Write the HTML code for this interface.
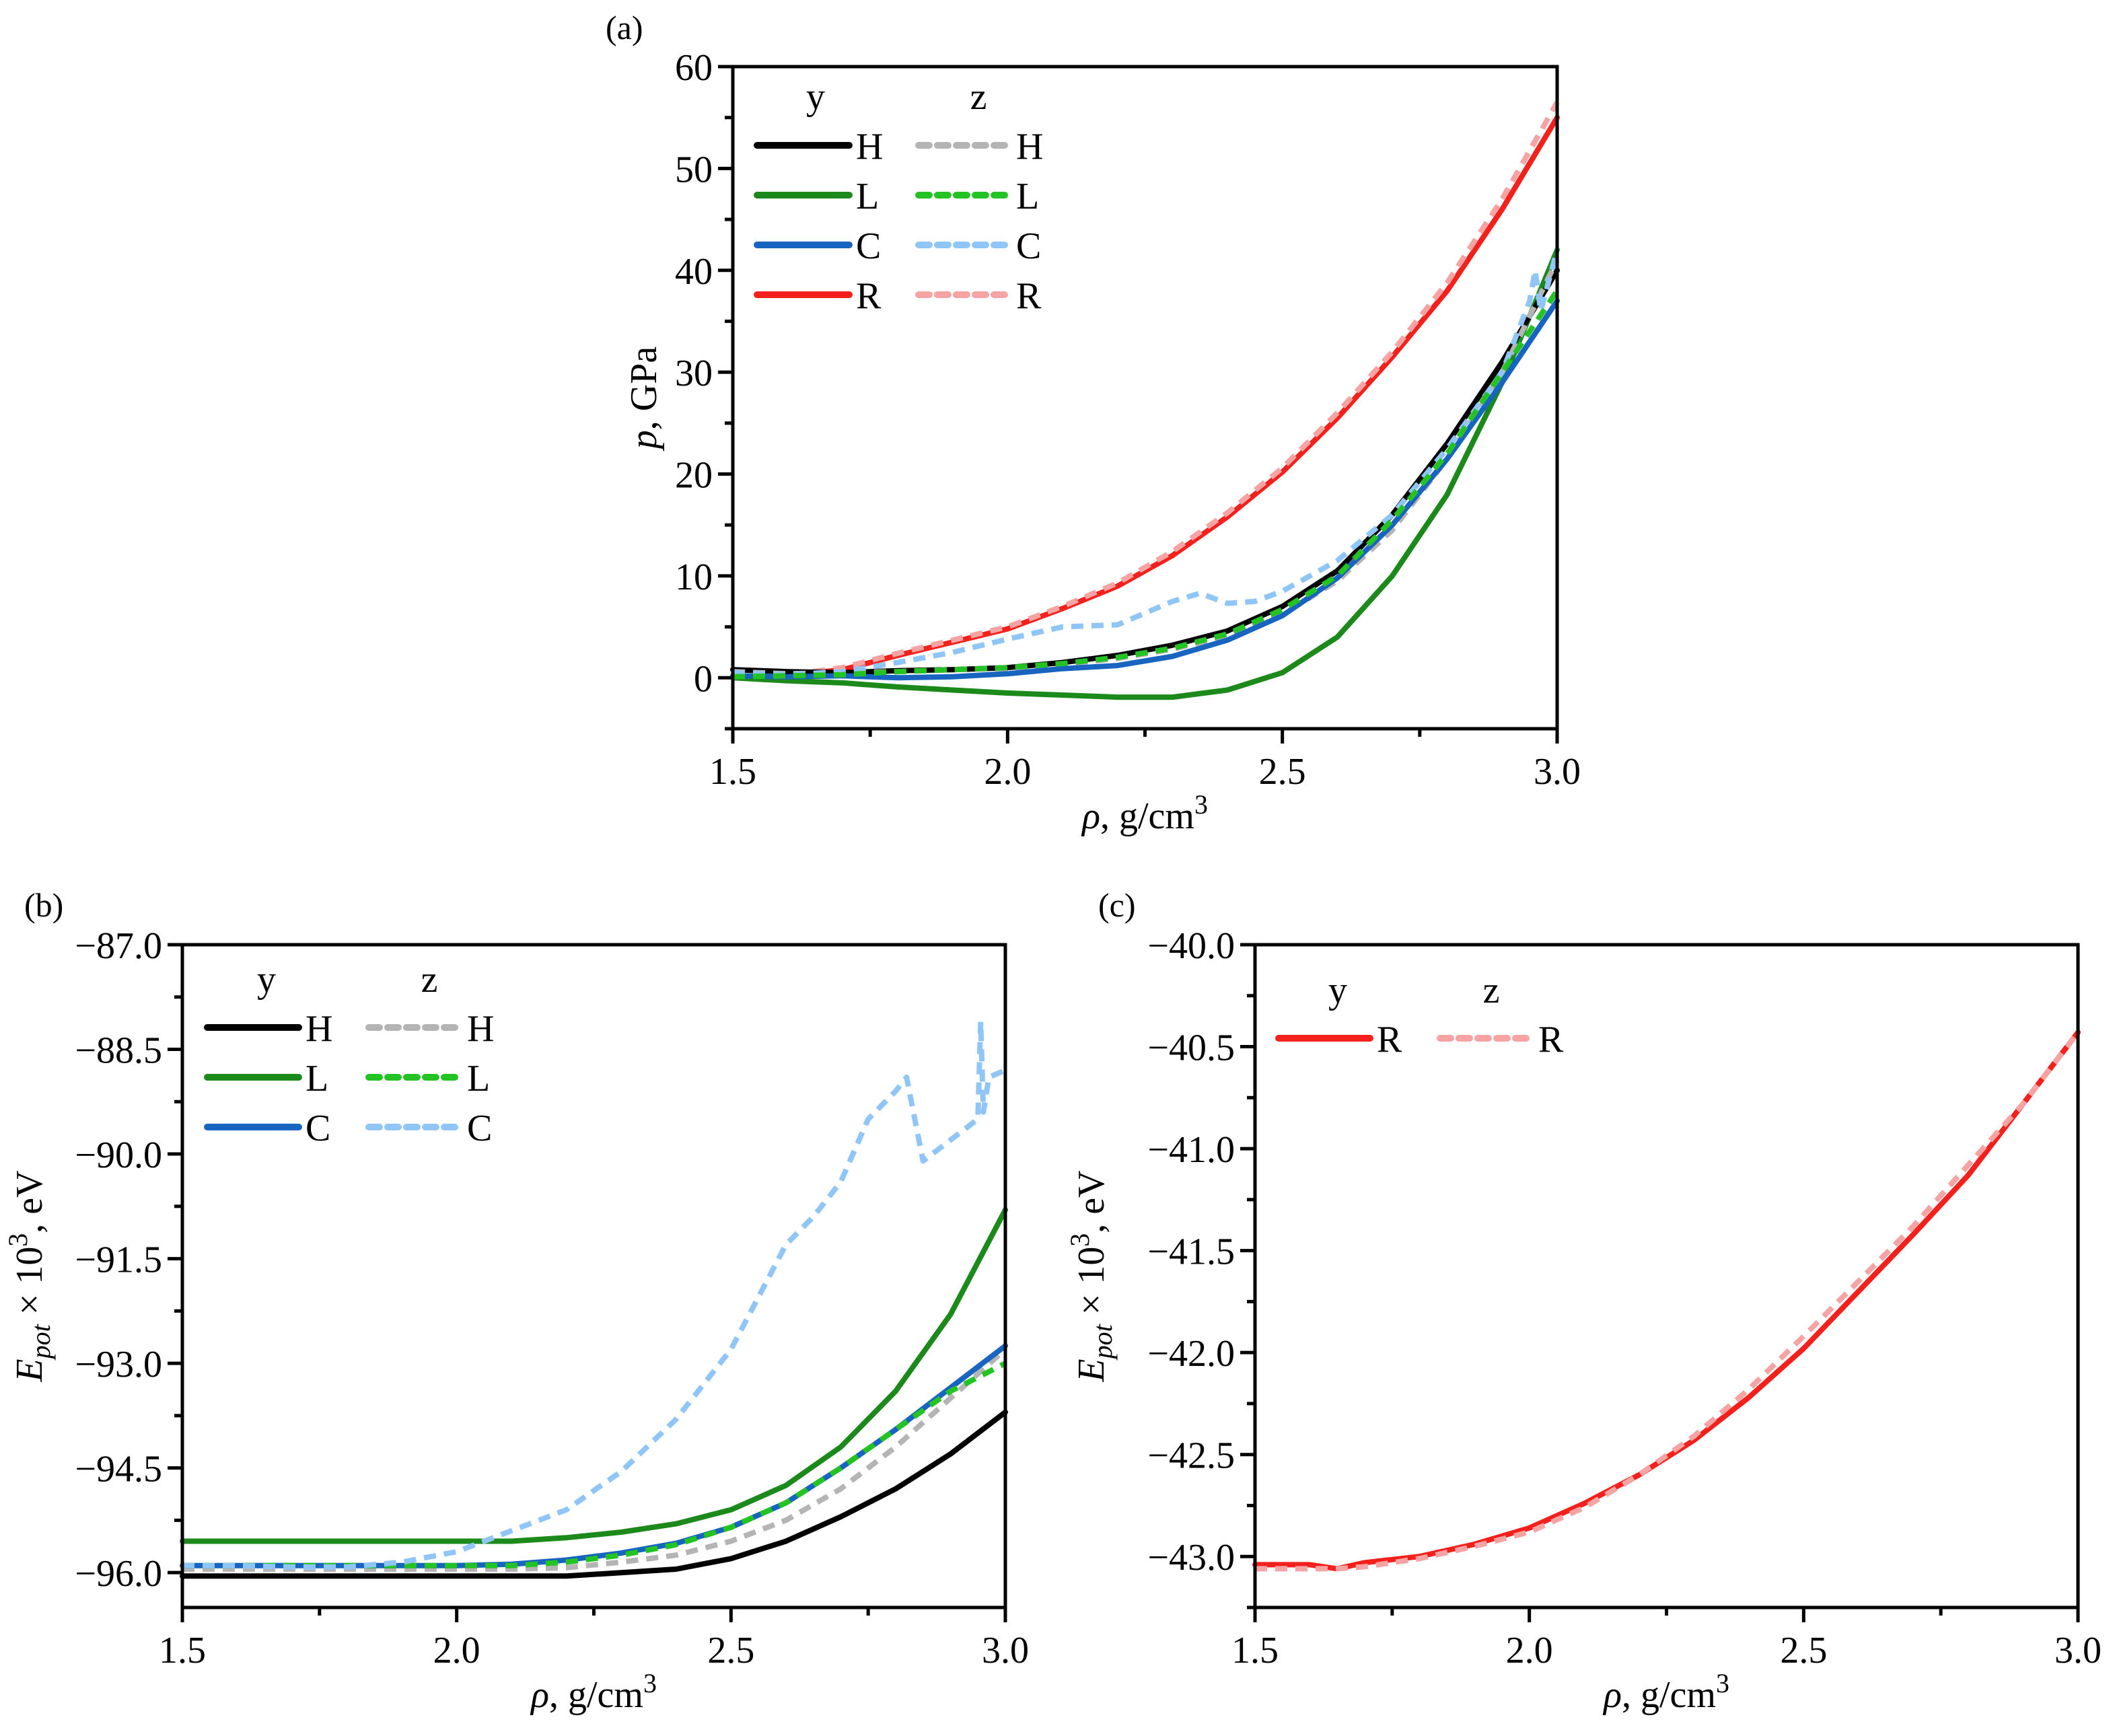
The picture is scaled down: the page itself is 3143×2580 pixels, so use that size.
<!DOCTYPE html>
<html><head><meta charset="utf-8"><style>
html,body{margin:0;padding:0;background:#fff}
svg, svg text{font-family:"Liberation Serif","Times New Roman",serif}
</style></head><body>
<svg id="fig" width="3143" height="2575" viewBox="0 0 3143 2575" xmlns="http://www.w3.org/2000/svg" font-family="Liberation Serif, serif">
<rect width="3143" height="2575" fill="#fff"/>
</svg>
<script>
// ---- data ----
const rhoA = [1.5,1.6,1.7,1.8,1.9,2.0,2.1,2.2,2.3,2.4,2.5,2.6,2.7,2.8,2.9,3.0];
const pHy = [0.8,0.6,0.5,0.7,0.8,1.0,1.5,2.2,3.2,4.6,7.0,10.5,16,23,31,40];
const pHz = [0.6,0.4,0.5,0.6,0.8,0.9,1.3,1.9,2.8,4.1,6.2,9.5,14.5,21.5,30,41];
const pLy = [0,-0.3,-0.5,-0.9,-1.2,-1.5,-1.7,-1.9,-1.9,-1.2,0.5,4,10,18,29,42];
const pLz = [0.1,0.2,0.3,0.6,0.8,1.0,1.4,2.0,2.9,4.3,6.7,10,15.5,22,30,38];
const pCy = [0.2,0.1,0.2,0.0,0.1,0.4,0.9,1.2,2.1,3.7,6.1,9.8,15,21.5,29,37];
const pRy = [0,0.2,0.8,2.2,3.5,4.8,6.8,9.0,12,15.8,20.2,25.5,31.5,38,46,55];
const pRz = [0,0.3,1.0,2.4,3.7,5.0,7.0,9.3,12.4,16.2,20.6,26,32,38.8,47,56.5];
const rhoCz = [1.5,1.6,1.7,1.8,1.9,2.0,2.1,2.2,2.3,2.35,2.4,2.45,2.5,2.6,2.7,2.8,2.9,2.95,2.96,2.97,3.0];
const pCz = [0.5,0.3,0.6,1.5,2.5,3.8,5,5.2,7.5,8.3,7.3,7.5,8.5,11.5,16,22.5,30,37,40,36,42];

const rhoB = [1.5,1.6,1.7,1.8,1.9,2.0,2.1,2.2,2.3,2.4,2.5,2.6,2.7,2.8,2.9,3.0];
const eHy = [-96.05,-96.05,-96.05,-96.05,-96.05,-96.05,-96.05,-96.05,-96.0,-95.95,-95.8,-95.55,-95.2,-94.8,-94.3,-93.7];
const eHz = [-95.95,-95.95,-95.95,-95.95,-95.95,-95.95,-95.95,-95.93,-95.85,-95.75,-95.55,-95.25,-94.8,-94.2,-93.5,-92.8];
const eLy = [-95.55,-95.55,-95.55,-95.55,-95.55,-95.55,-95.55,-95.5,-95.42,-95.3,-95.1,-94.75,-94.2,-93.4,-92.3,-90.8];
const eLz = [-95.9,-95.9,-95.9,-95.9,-95.9,-95.9,-95.9,-95.85,-95.75,-95.6,-95.35,-95.0,-94.5,-93.95,-93.4,-93.0];
const eCy = [-95.9,-95.9,-95.9,-95.9,-95.9,-95.9,-95.88,-95.82,-95.72,-95.58,-95.35,-95.0,-94.5,-93.95,-93.35,-92.75];
const rhoBCz = [1.5,1.6,1.7,1.8,1.9,2.0,2.05,2.1,2.2,2.3,2.4,2.5,2.6,2.65,2.7,2.75,2.8,2.82,2.85,2.9,2.95,2.955,2.96,2.97,3.0];
const eCz = [-95.9,-95.9,-95.92,-95.92,-95.85,-95.7,-95.55,-95.4,-95.1,-94.55,-93.8,-92.8,-91.3,-90.9,-90.4,-89.5,-89.1,-88.9,-90.1,-89.8,-89.5,-88.1,-89.4,-88.9,-88.8];

const rhoC = [1.5,1.6,1.65,1.7,1.8,1.9,2.0,2.1,2.2,2.3,2.4,2.5,2.6,2.7,2.8,2.9,3.0];
const cRy = [-43.04,-43.04,-43.06,-43.03,-43.0,-42.94,-42.86,-42.74,-42.6,-42.43,-42.22,-41.98,-41.7,-41.42,-41.13,-40.78,-40.43];
const cRz = [-43.06,-43.06,-43.06,-43.05,-43.01,-42.95,-42.88,-42.76,-42.6,-42.41,-42.18,-41.92,-41.65,-41.38,-41.08,-40.78,-40.43];

const xTicks = ["1.5","2.0","2.5","3.0"];
const yTicksA = ["0","10","20","30","40","50","60"];
const yTicksB = ["\u221296.0","\u221294.5","\u221293.0","\u221291.5","\u221290.0","\u221288.5","\u221287.0"];
const yTicksC = ["\u221243.0","\u221242.5","\u221242.0","\u221241.5","\u221241.0","\u221240.5","\u221240.0"];

const NS = "http://www.w3.org/2000/svg";
const svg = document.getElementById('fig');
function mk(tag, attrs, parent){
  const e = document.createElementNS(NS, tag);
  for (const k in attrs) e.setAttribute(k, attrs[k]);
  if (tag === 'text') e.setAttribute('font-family', 'Liberation Serif, serif');
  (parent||svg).appendChild(e);
  return e;
}
const FS = 56;

function panel(cfg){
  const g = mk('g', {});
  
  
  const {L,R,T,B,ymin,ymax} = cfg;
  const sx = v => L + (v-1.5)/(1.5)*(R-L);
  const sy = v => B - (v-ymin)/(ymax-ymin)*(B-T);
  cfg.series.forEach(s=>{
    const d = s.x.map((xv,i)=>(i?'L':'M')+sx(xv).toFixed(1)+' '+sy(s.y[i]).toFixed(1)).join(' ');
    const p = mk('path',{d:d,fill:'none',stroke:s.c,'stroke-width':8,'stroke-linejoin':'round','stroke-linecap':s.dash?'butt':'round'},g);
    if (s.dash) p.setAttribute('stroke-dasharray','18 12');
    
    
  });
  const fr = mk('rect',{x:L,y:T,width:R-L,height:B-T,fill:'none',stroke:'#000','stroke-width':5},g);
  
  
  for (let i=0;i<=6;i++){
    const v = 1.5+i*0.25, X = sx(v), major = i%2===0;
    mk('line',{x1:X,y1:B,x2:X,y2:B+(major?22:12),stroke:'#000','stroke-width':5},g);
    if (major){
      const t = mk('text',{x:X,y:B+82,'font-size':FS,'text-anchor':'middle'},g);
      t.textContent = xTicks[i/2];
      
      
    }
  }
  const n = cfg.yTicks.length;
  for (let i=0;i<n;i++){
    const v = cfg.y0 + i*cfg.ystep, Y = sy(v);
    mk('line',{x1:L,y1:Y,x2:L-22,y2:Y,stroke:'#000','stroke-width':5},g);
    const t = mk('text',{x:L-30,y:Y+20,'font-size':FS,'text-anchor':'end'},g);
    t.textContent = cfg.yTicks[i];
    
    
  }
  for (let v=cfg.y0-cfg.ystep/2; v<ymax; v+=cfg.ystep){
    if (v<ymin) continue;
    const Y = sy(v);
    mk('line',{x1:L,y1:Y,x2:L-12,y2:Y,stroke:'#000','stroke-width':5},g);
  }
  const xt = mk('text',{x:(L+R)/2,y:B+148,'font-size':FS,'text-anchor':'middle'},g);
  xt.innerHTML = '<tspan font-style="italic">\u03c1</tspan>, g/cm<tspan dy="-22" font-size="40">3</tspan>';
  
  
  const yt = mk('text',{x:0,y:0,'font-size':FS,'text-anchor':'middle',transform:`translate(${cfg.ytx},${(T+B)/2}) rotate(-90)`},g);
  yt.innerHTML = cfg.ytitle;
  
  
  const pl = mk('text',{x:cfg.lab[0],y:cfg.lab[1],'font-size':50},g);
  pl.textContent = cfg.label;
  
  
  const lg = cfg.leg;
  const hy = mk('text',{x:lg.yx,y:lg.hy,'font-size':FS,'text-anchor':'middle'},g); hy.textContent='y';
   
  const hz = mk('text',{x:lg.zx,y:lg.hy,'font-size':FS,'text-anchor':'middle'},g); hz.textContent='z';
   
  lg.rows.forEach((r,i)=>{
    const Y = lg.r0 + i*lg.dr;
    const a = mk('line',{x1:lg.s1,y1:Y,x2:lg.s2,y2:Y,stroke:r.c1,'stroke-width':10,'stroke-linecap':'round'},g);
     
    const ta = mk('text',{x:lg.s2+10,y:Y+20,'font-size':FS},g); ta.textContent=r.t;
    const b = mk('line',{x1:lg.d1,y1:Y,x2:lg.d2,y2:Y,stroke:r.c2,'stroke-width':10,'stroke-dasharray':'16 12','stroke-linecap':'round'},g);
     
    const tb = mk('text',{x:lg.d2+8,y:Y+20,'font-size':FS},g); tb.textContent=r.t;
  });
}

const C = {blk:'#000',gry:'#b4b4b4',grn:'#1b8a1b',lgr:'#22c322',blu:'#1765c1',lbl:'#90c6f7',red:'#f4201c',pnk:'#f6a3a3'};
const EP = '<tspan font-style="italic">E</tspan><tspan font-style="italic" font-size="40" dy="12">pot</tspan><tspan dy="-12"> \u00d7 10</tspan><tspan dy="-22" font-size="40">3</tspan><tspan dy="22">, eV</tspan>';

panel({name:'panel-a-pressure',L:1089,R:2314,T:99,B:1083,ymin:-5,ymax:60,y0:0,ystep:10,yTicks:yTicksA,
  ytx:975,ytitle:'<tspan font-style="italic">p</tspan>, GPa',label:'(a)',lab:[900,58],
  series:[
    {n:'line-R-y',x:rhoA,y:pRy,c:C.red},{n:'line-R-z',x:rhoA,y:pRz,c:C.pnk,dash:1},
    {n:'line-L-y',x:rhoA,y:pLy,c:C.grn},{n:'line-H-y',x:rhoA,y:pHy,c:C.blk},
    {n:'line-H-z',x:rhoA,y:pHz,c:C.gry,dash:1},{n:'line-C-y',x:rhoA,y:pCy,c:C.blu},
    {n:'line-C-z',x:rhoCz,y:pCz,c:C.lbl,dash:1},{n:'line-L-z',x:rhoA,y:pLz,c:C.lgr,dash:1}],
  leg:{yx:1212,zx:1454,hy:162,r0:216,dr:74,s1:1125,s2:1262,d1:1365,d2:1502,
    rows:[{t:'H',c1:C.blk,c2:C.gry},{t:'L',c1:C.grn,c2:C.lgr},{t:'C',c1:C.blu,c2:C.lbl},{t:'R',c1:C.red,c2:C.pnk}]}
});

panel({name:'panel-b-energy',L:271,R:1494,T:1404,B:2389,ymin:-96.5,ymax:-87,y0:-96,ystep:1.5,yTicks:yTicksB,
  ytx:62,ytitle:EP,label:'(b)',lab:[36,1362],
  series:[
    {n:'line-H-y',x:rhoB,y:eHy,c:C.blk},{n:'line-L-y',x:rhoB,y:eLy,c:C.grn},
    {n:'line-H-z',x:rhoB,y:eHz,c:C.gry,dash:1},{n:'line-C-y',x:rhoB,y:eCy,c:C.blu},
    {n:'line-L-z',x:rhoB,y:eLz,c:C.lgr,dash:1},{n:'line-C-z',x:rhoBCz,y:eCz,c:C.lbl,dash:1}],
  leg:{yx:396,zx:638,hy:1474,r0:1527,dr:74,s1:308,s2:444,d1:548,d2:686,
    rows:[{t:'H',c1:C.blk,c2:C.gry},{t:'L',c1:C.grn,c2:C.lgr},{t:'C',c1:C.blu,c2:C.lbl}]}
});

panel({name:'panel-c-energy-R',L:1865,R:3088,T:1404,B:2389,ymin:-43.25,ymax:-40,y0:-43,ystep:0.5,yTicks:yTicksC,
  ytx:1640,ytitle:EP,label:'(c)',lab:[1632,1362],
  series:[{n:'line-R-y',x:rhoC,y:cRy,c:C.red},{n:'line-R-z',x:rhoC,y:cRz,c:C.pnk,dash:1}],
  leg:{yx:1988,zx:2216,hy:1490,r0:1543,dr:74,s1:1900,s2:2036,d1:2140,d2:2278,
    rows:[{t:'R',c1:C.red,c2:C.pnk}]}
});
</script>
</body></html>
